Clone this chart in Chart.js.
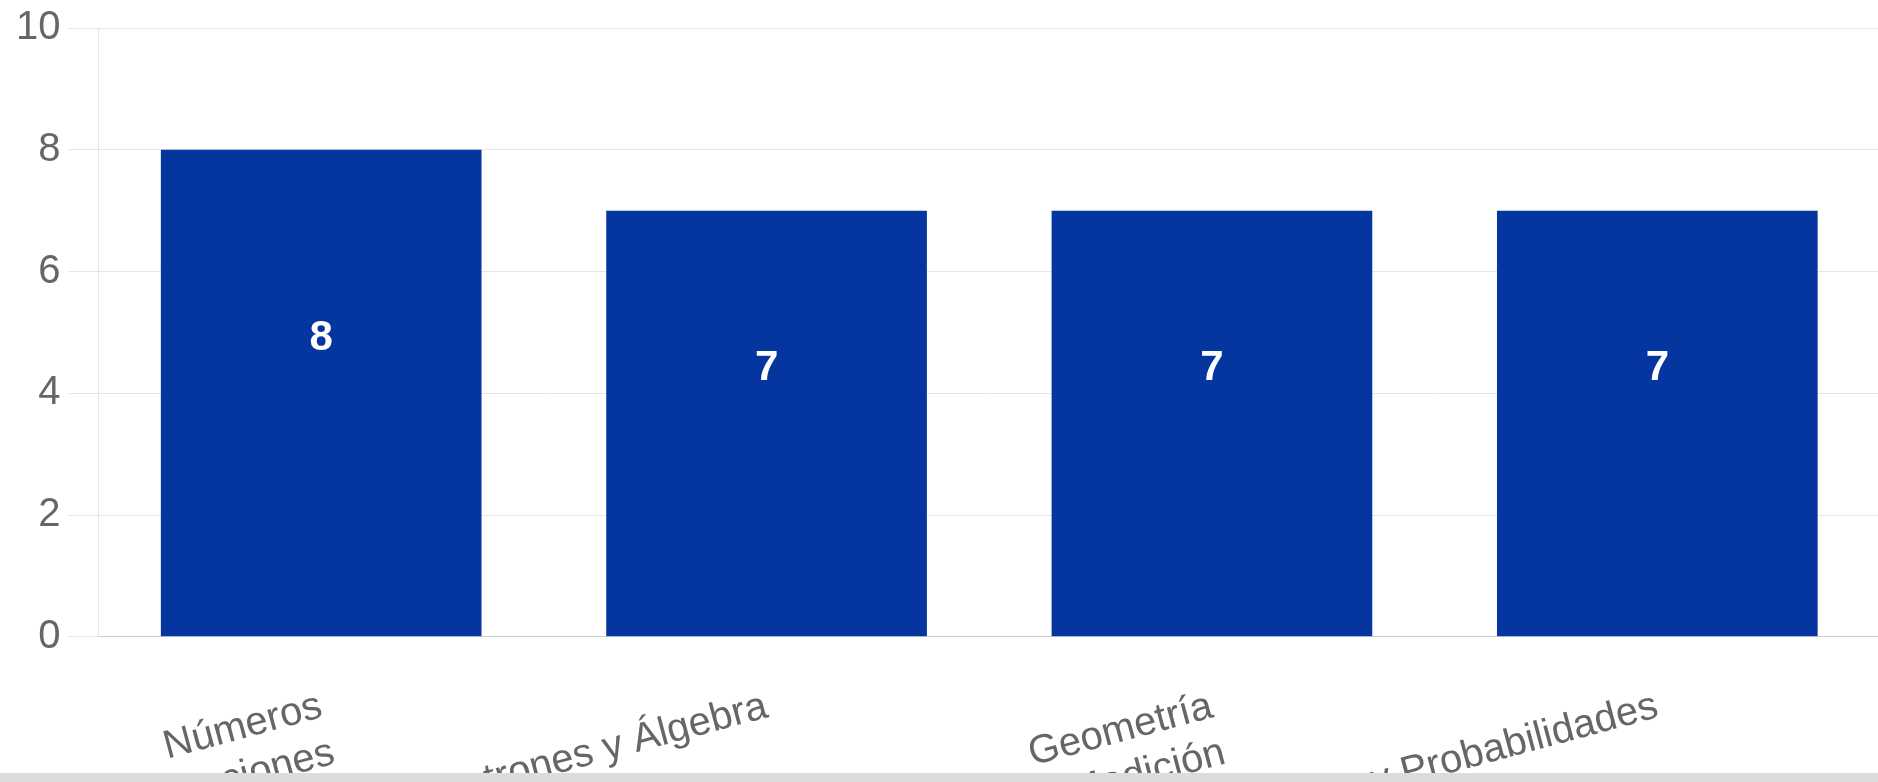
<!DOCTYPE html>
<html>
<head>
<meta charset="utf-8">
<script src="https://cdn.jsdelivr.net/npm/chart.js@4/dist/chart.umd.min.js"></script>
<style>
  html, body { margin: 0; padding: 0; background: #fff; overflow: hidden; }
  #wrap { position: relative; width: 1882px; height: 920px; }
  #band { position: fixed; left: 0; right: 0; bottom: 0; height: 9px; background: #dcdcdc; }
</style>
</head>
<body>
<div id="wrap"><canvas id="chart"></canvas></div>
<div id="band"></div>
<script>
const categories = [
  ['Números', 'y Operaciones'],
  'Patrones y Álgebra',
  ['Geometría', 'y Medición'],
  'Datos y Probabilidades',
];
const values = [8, 7, 7, 7];
const yMin = 0;
const yMax = 10;
const yStep = 2;

// value printed inside each bar, a bit above its middle
const barValueLabels = {
  id: 'barValueLabels',
  afterDatasetsDraw(chart, args, options) {
    const { ctx } = chart;
    const meta = chart.getDatasetMeta(0);
    ctx.save();
    ctx.fillStyle = options.color;
    ctx.font = options.font;
    ctx.textAlign = 'center';
    ctx.textBaseline = 'middle';
    meta.data.forEach((bar, i) => {
      const mid = (bar.y + bar.base) / 2;
      ctx.fillText(values[i], bar.x, mid + options.offset);
    });
    ctx.restore();
  },
};

Chart.defaults.font.family = "'Liberation Sans', Arial, sans-serif";
Chart.defaults.font.size = 40;
Chart.defaults.color = '#666';

new Chart(document.getElementById('chart'), {
  type: 'bar',
  data: {
    labels: categories,
    datasets: [
      {
        data: values,
        backgroundColor: '#0536a0',
      },
    ],
  },
  options: {
    responsive: true,
    maintainAspectRatio: false,
    animation: false,
    layout: {
      padding: { left: 8, right: 2, top: 0, bottom: 0 },
    },
    scales: {
      x: {
        grid: { display: false },
        ticks: {
          minRotation: 15,
          maxRotation: 15,
          padding: 38,
          autoSkip: false,
        },
      },
      y: {
        min: yMin,
        max: yMax,
        grid: { tickLength: 30 },
        ticks: {
          stepSize: yStep,
          padding: 8,
          font: { lineHeight: 1 },
        },
      },
    },
    plugins: {
      legend: { display: false },
      tooltip: { enabled: false },
      barValueLabels: {
        color: '#ffffff',
        font: "bold 42px 'Liberation Sans', Arial, sans-serif",
        offset: -55,
      },
    },
  },
  plugins: [barValueLabels],
});
</script>
</body>
</html>
